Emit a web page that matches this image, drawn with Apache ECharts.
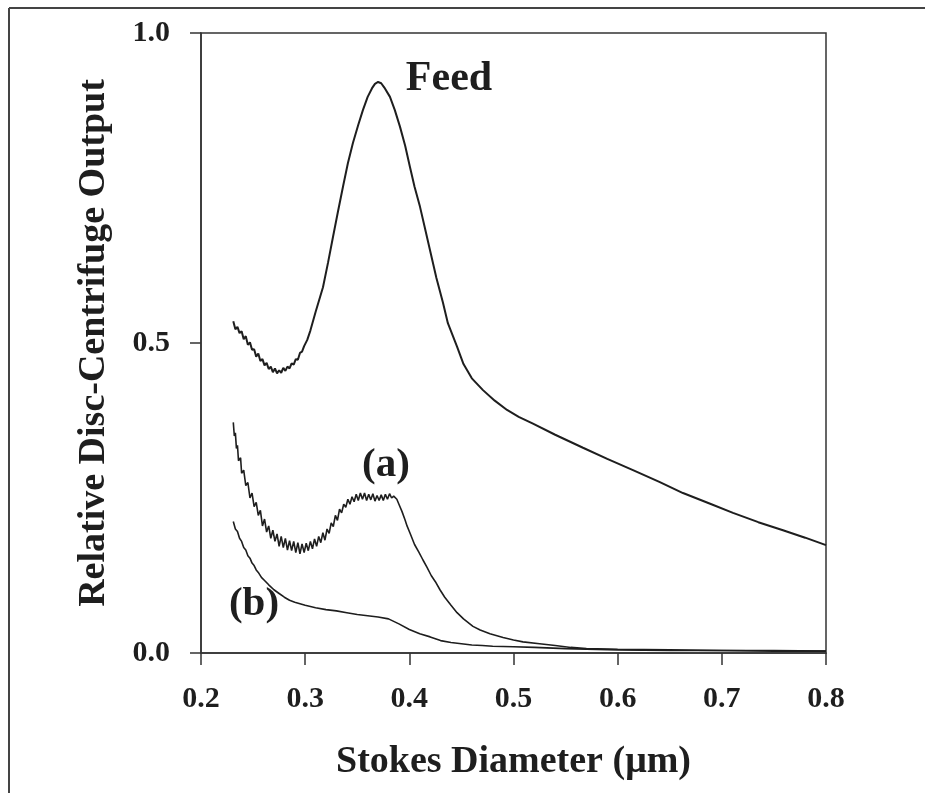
<!DOCTYPE html>
<html>
<head>
<meta charset="utf-8">
<script src="https://cdn.jsdelivr.net/npm/echarts@6/dist/echarts.min.js"></script>
<style>
html,body{margin:0;padding:0;background:#fff;}
#chart{width:925px;height:793px;}
</style>
</head>
<body>
<div id="chart"></div>
<script>
// Tick values
const xTicks = [0.2, 0.3, 0.4, 0.5, 0.6, 0.7, 0.8];
const yTicks = [0.0, 0.5, 1.0];

// Feed curve
const feedX = [0.231,0.233,0.235,0.237,0.239,0.241,0.243,0.245,0.247,0.249,0.251,0.253,0.255,0.257,0.259,0.261,0.263,0.265,0.267,0.269,0.271,0.273,0.275,0.277,0.279,0.281,0.283,0.285,0.287,0.289,0.291,0.293,0.295,0.297,0.299,0.302,
  0.305,0.31,0.3171,0.322,0.3267,0.3315,0.3363,0.341,0.3459,0.351,0.3555,0.36,0.3642,0.367,0.37,0.373,0.376,0.3814,0.386,0.391,0.396,0.4006,0.405,0.4102,0.415,0.4198,0.426,0.4323,0.437,0.4458,0.452,0.46,0.4707,0.482,0.4938,0.505,0.5187,0.54,0.5667,0.59,0.6147,0.64,0.6627,0.69,0.7107,0.735,0.7587,0.78,0.8];
const feedY = [0.535,0.522,0.526,0.516,0.519,0.506,0.511,0.497,0.501,0.489,0.49,0.478,0.483,0.471,0.474,0.464,0.468,0.458,0.462,0.453,0.459,0.451,0.456,0.452,0.46,0.455,0.462,0.459,0.467,0.465,0.474,0.473,0.484,0.486,0.495,0.505,
  0.52,0.55,0.59,0.63,0.671,0.712,0.752,0.79,0.823,0.852,0.876,0.897,0.911,0.918,0.921,0.919,0.912,0.897,0.876,0.849,0.818,0.784,0.752,0.72,0.685,0.65,0.605,0.565,0.532,0.494,0.466,0.443,0.424,0.407,0.392,0.381,0.37,0.352,0.331,0.313,0.295,0.276,0.258,0.24,0.226,0.211,0.198,0.186,0.174];

// Curve (a)
const aX = [0.231,0.232,0.233,0.234,0.235,0.236,0.238,0.239,0.241,0.243,0.245,0.247,0.249,0.251,0.253,0.255,0.257,0.259,0.261,0.263,0.265,0.267,0.269,0.271,0.273,0.275,0.277,0.279,0.281,0.283,0.285,0.287,0.289,0.291,0.293,0.295,0.297,0.299,0.301,0.303,0.305,0.307,0.309,0.311,0.313,0.315,0.317,0.319,0.321,0.323,0.325,0.327,0.329,0.331,0.333,0.335,0.337,0.339,0.341,0.343,0.345,0.347,0.349,0.351,0.353,0.355,0.357,0.359,0.361,0.363,0.365,0.367,0.369,0.371,0.373,0.375,0.377,0.379,0.381,0.383,0.385,0.388,
  0.39,0.393,0.396,0.3978,0.401,0.405,0.409,0.4131,0.417,0.421,0.425,0.4294,0.434,0.44,0.4458,0.452,0.4611,0.468,0.4774,0.49,0.5,0.5091,0.525,0.54,0.555,0.57,0.6,0.65,0.7,0.75,0.8];
const aY = [0.372,0.35,0.355,0.33,0.335,0.31,0.315,0.29,0.295,0.27,0.275,0.25,0.258,0.236,0.243,0.222,0.23,0.205,0.216,0.195,0.205,0.185,0.198,0.18,0.192,0.172,0.188,0.17,0.185,0.166,0.181,0.165,0.18,0.162,0.178,0.16,0.176,0.162,0.177,0.165,0.18,0.168,0.184,0.172,0.188,0.178,0.194,0.182,0.2,0.193,0.21,0.204,0.222,0.214,0.232,0.226,0.24,0.235,0.248,0.24,0.252,0.244,0.256,0.246,0.258,0.248,0.258,0.246,0.256,0.247,0.257,0.245,0.254,0.246,0.255,0.246,0.256,0.248,0.257,0.25,0.253,0.248,
  0.24,0.228,0.214,0.205,0.192,0.175,0.163,0.15,0.138,0.125,0.115,0.102,0.09,0.077,0.065,0.055,0.043,0.037,0.031,0.025,0.021,0.018,0.015,0.012,0.009,0.007,0.006,0.005,0.004,0.004,0.003];

// Curve (b)
const bX = [0.231,0.233,0.235,0.237,0.239,0.241,0.243,0.245,0.247,0.249,0.251,0.253,0.255,0.258,0.261,0.265,0.27,0.275,0.28,0.285,0.29,0.3,0.31,0.32,0.33,0.34,0.35,0.36,0.37,0.38,0.39,0.4,0.41,0.42,0.43,0.44,0.45,0.46,0.47,0.48,0.5,0.52,0.55,0.6,0.65,0.7,0.75,0.8];
const bY = [0.212,0.2,0.196,0.185,0.18,0.17,0.166,0.157,0.153,0.145,0.141,0.134,0.13,0.122,0.117,0.11,0.102,0.096,0.09,0.085,0.082,0.077,0.073,0.07,0.068,0.065,0.062,0.06,0.058,0.055,0.047,0.038,0.031,0.026,0.02,0.017,0.015,0.013,0.012,0.011,0.01,0.009,0.007,0.005,0.004,0.004,0.003,0.003];

// Labels
const curveLabels = ['Feed', '(a)', '(b)'];
const xTitle = 'Stokes Diameter (\u03bcm)';
const yTitle = 'Relative Disc-Centrifuge Output';

const pairs = (xs, ys) => xs.map((x, i) => [x, ys[i]]);
const FONT = '"Liberation Serif", "Times New Roman", serif';
const INK = '#1e1e1e';

const chart = echarts.init(document.getElementById('chart'), null, {renderer: 'canvas'});
chart.setOption({
  backgroundColor: '#ffffff',
  animation: false,
  grid: {left: 201, right: 99, top: 33, bottom: 140, show: true, borderColor: '#333', borderWidth: 1.5, backgroundColor: 'transparent'},
  xAxis: {
    type: 'value', min: xTicks[0], max: xTicks[xTicks.length - 1], interval: 0.1,
    axisLine: {show: true, lineStyle: {color: '#333', width: 1.5}},
    axisTick: {show: true, inside: false, length: 12, lineStyle: {color: '#333', width: 1.5}},
    splitLine: {show: false},
    axisLabel: {formatter: v => v.toFixed(1), fontFamily: FONT, fontWeight: 'bold', fontSize: 30, color: INK, margin: 31},
    name: xTitle, nameLocation: 'middle', nameGap: 90,
    nameTextStyle: {fontFamily: FONT, fontWeight: 'bold', fontSize: 38, color: INK}
  },
  yAxis: {
    type: 'value', min: yTicks[0], max: yTicks[yTicks.length - 1], interval: 0.5,
    axisLine: {show: true, lineStyle: {color: '#333', width: 1.5}},
    axisTick: {show: true, inside: false, length: 11, lineStyle: {color: '#333', width: 1.5}},
    splitLine: {show: false},
    axisLabel: {formatter: v => v.toFixed(1), fontFamily: FONT, fontWeight: 'bold', fontSize: 30, color: INK, margin: 31},
    name: yTitle, nameLocation: 'middle', nameGap: 88, nameRotate: 90,
    nameTextStyle: {fontFamily: FONT, fontWeight: 'bold', fontSize: 38, color: INK}
  },
  series: [
    {name: curveLabels[0], type: 'line', data: pairs(feedX, feedY), showSymbol: false, lineStyle: {color: INK, width: 2}},
    {name: curveLabels[1], type: 'line', data: pairs(aX, aY), showSymbol: false, lineStyle: {color: INK, width: 1.6}},
    {name: curveLabels[2], type: 'line', data: pairs(bX, bY), showSymbol: false, lineStyle: {color: INK, width: 1.6}}
  ],
  graphic: [
    {type: 'line', shape: {x1: 9, y1: 8, x2: 925, y2: 8}, style: {stroke: '#444', lineWidth: 2}},
    {type: 'line', shape: {x1: 9, y1: 8, x2: 9, y2: 793}, style: {stroke: '#444', lineWidth: 2}},
    {type: 'text', x: 449, y: 79, style: {text: curveLabels[0], font: 'bold 42px ' + FONT, fill: INK, textAlign: 'center', textVerticalAlign: 'middle'}},
    {type: 'text', x: 386, y: 465, style: {text: curveLabels[1], font: 'bold 41px ' + FONT, fill: INK, textAlign: 'center', textVerticalAlign: 'middle'}},
    {type: 'text', x: 254, y: 604, style: {text: curveLabels[2], font: 'bold 41px ' + FONT, fill: INK, textAlign: 'center', textVerticalAlign: 'middle'}}
  ]
});
</script>
</body>
</html>
